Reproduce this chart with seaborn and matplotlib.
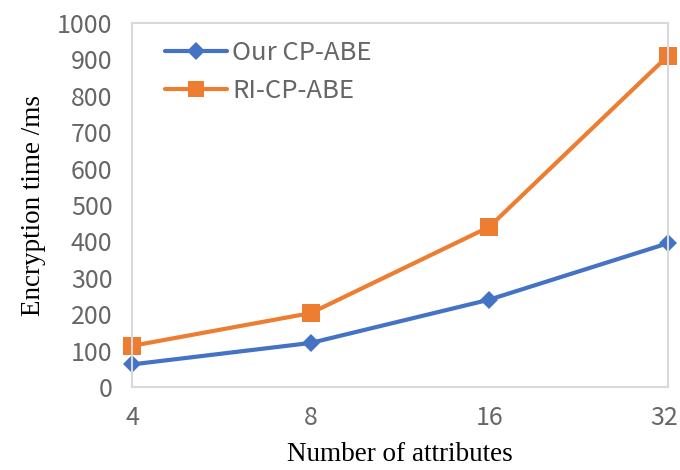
import matplotlib
matplotlib.use("Agg")
import matplotlib.pyplot as plt
import matplotlib.transforms as mtransforms
import seaborn as sns
import pandas as pd

attributes = ["4", "8", "16", "32"]
our_cpabe = [62, 121, 240, 395]
ri_cpabe = [113, 203, 440, 910]
series_names = ["Our CP-ABE", "RI-CP-ABE"]
y_ticks = list(range(0, 1001, 100))

df = pd.DataFrame({
    "attributes": attributes * 2,
    "time": our_cpabe + ri_cpabe,
    "scheme": [series_names[0]] * 4 + [series_names[1]] * 4,
})

sns.set_theme(style="white")
plt.rcParams['font.family'] = ['Noto Sans CJK SC', 'DejaVu Sans']

fig = plt.figure(figsize=(6.8, 4.7), dpi=100)
ax = fig.add_axes([132/680, 1-387/470, 536/680, 364/470])

palette = {series_names[0]: "#4472C4", series_names[1]: "#ED7D31"}
markers = {series_names[0]: "D", series_names[1]: "s"}
sns.lineplot(data=df, x="attributes", y="time", hue="scheme", style="scheme",
             markers=markers, dashes=False, palette=palette, linewidth=3,
             markersize=11, markeredgewidth=0, sort=False, ax=ax)
for line in ax.lines:
    line.set_clip_on(False)
    if line.get_marker() == "D":
        line.set_markersize(9.5)
    elif line.get_marker() == "s":
        line.set_markersize(12.5)

ax.set_xlim(0, 3)
ax.set_ylim(0, 1000)
ax.set_yticks(y_ticks)
ax.tick_params(axis="both", length=0, labelsize=18, labelcolor="#666666")
ax.tick_params(axis="y", pad=14)
ax.tick_params(axis="x", pad=13)
for s in ax.spines.values():
    s.set_color("#D9D9D9")
    s.set_linewidth(1.5)

fig.canvas.draw()
last = ax.get_xticklabels()[-1]
last.set_transform(last.get_transform() + mtransforms.ScaledTranslation(-4/100, 0, fig.dpi_scale_trans))

ax.set_xlabel("Number of attributes", fontsize=19.5, family="Liberation Serif", color="black", labelpad=8)
ax.set_ylabel("Encryption time /ms", fontsize=19.5, family="Liberation Serif", color="black", labelpad=8)

leg = ax.legend(loc="upper left", bbox_to_anchor=(0.062, 0.952), frameon=False,
                fontsize=18.5, handlelength=2.4, handletextpad=0.2, labelspacing=0.45,
                borderpad=0, borderaxespad=0)
for t in leg.get_texts():
    t.set_color("#666666")
for h in leg.legend_handles:
    if h.get_marker() == "D":
        h.set_markersize(9)
    elif h.get_marker() == "s":
        h.set_markersize(11)

fig.savefig("out.png", dpi=100)
